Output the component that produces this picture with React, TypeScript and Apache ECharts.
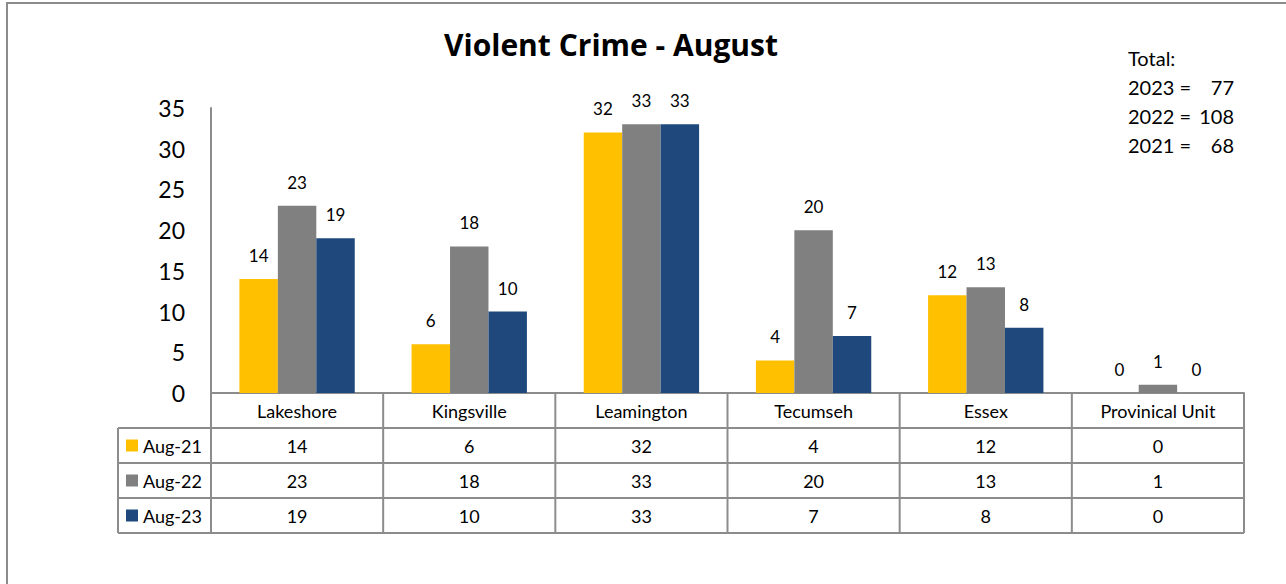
import React, { useEffect, useRef } from "react";
import * as echarts from "echarts";

const categories = ["Lakeshore", "Kingsville", "Leamington", "Tecumseh", "Essex", "Provinical Unit"];
const seriesNames = ["Aug-21", "Aug-22", "Aug-23"];
const aug21 = [14, 6, 32, 4, 12, 0];
const aug22 = [23, 18, 33, 20, 13, 1];
const aug23 = [19, 10, 33, 7, 8, 0];
const seriesColors = ["#FFC000", "#808080", "#1F497D"];
const totalYears = ["2023", "2022", "2021"];
const yMax = 35;
const yInterval = 5;

const FONT = "Lato, 'Noto Sans', sans-serif";
const TITLE_FONT = "'Open Sans', Lato, sans-serif";
const W = 1286;
const H = 584;
const GRID_LEFT = 211;
const GRID_RIGHT_X = 1244;
const GRID_TOP = 108;
const AXIS_Y = 393;
const ROW_H = 35;
const LEG_LEFT = 118;
const LINE_COLOR = "#8c8c8c";

export default function App() {
  const ref = useRef<HTMLDivElement>(null);
  useEffect(() => {
    if (!ref.current) return;
    const chart = echarts.init(ref.current, undefined, { renderer: "svg" });
    const allSeries = [aug21, aug22, aug23];
    const totalsBy: Record<string, number> = {
      "2021": aug21.reduce((a, b) => a + b, 0),
      "2022": aug22.reduce((a, b) => a + b, 0),
      "2023": aug23.reduce((a, b) => a + b, 0),
    };
    const catW = (GRID_RIGHT_X - GRID_LEFT) / categories.length;
    const tableBottom = AXIS_Y + ROW_H * 4;
    const lineStyle = { stroke: LINE_COLOR, lineWidth: 2 };
    const graphic: any[] = [];
    graphic.push({
      type: "rect",
      shape: { x: 7, y: 3, width: 1400, height: 800 },
      style: { fill: "none", stroke: LINE_COLOR, lineWidth: 2 },
      silent: true,
    });
    for (let r = 1; r <= 4; r++) {
      const y = AXIS_Y + ROW_H * r;
      graphic.push({
        type: "line",
        shape: { x1: LEG_LEFT, y1: y, x2: GRID_RIGHT_X, y2: y },
        style: lineStyle,
        silent: true,
      });
    }
    graphic.push({
      type: "line",
      shape: { x1: LEG_LEFT, y1: AXIS_Y + ROW_H, x2: LEG_LEFT, y2: tableBottom },
      style: lineStyle,
      silent: true,
    });
    for (let i = 0; i <= categories.length; i++) {
      const x = GRID_LEFT + catW * i;
      graphic.push({
        type: "line",
        shape: { x1: x, y1: AXIS_Y, x2: x, y2: tableBottom },
        style: lineStyle,
        silent: true,
      });
    }
    seriesNames.forEach((name, r) => {
      const cy = AXIS_Y + ROW_H * (r + 1) + ROW_H / 2;
      graphic.push({
        type: "rect",
        shape: { x: 126, y: cy - 6, width: 12, height: 12 },
        style: { fill: seriesColors[r] },
        silent: true,
      });
      graphic.push({
        type: "text",
        x: 143,
        y: cy,
        style: { text: name, fontSize: 18, fontFamily: FONT, fill: "#000", verticalAlign: "middle", align: "left" },
        silent: true,
      });
      allSeries[r].forEach((v, i) => {
        graphic.push({
          type: "text",
          x: GRID_LEFT + catW * (i + 0.5),
          y: cy,
          style: { text: String(v), fontSize: 18, fontFamily: FONT, fill: "#000", verticalAlign: "middle", align: "center" },
          silent: true,
        });
      });
    });
    graphic.push({
      type: "text",
      x: 1128,
      y: 58,
      style: { text: "Total:", fontSize: 20, fontFamily: FONT, fill: "#000", verticalAlign: "middle", align: "left" },
      silent: true,
    });
    totalYears.forEach((yr, k) => {
      const y = 58 + 29 * (k + 1);
      graphic.push({
        type: "text",
        x: 1128,
        y,
        style: { text: yr + " =", fontSize: 20, fontFamily: FONT, fill: "#000", verticalAlign: "middle", align: "left" },
        silent: true,
      });
      graphic.push({
        type: "text",
        x: 1234,
        y,
        style: { text: String(totalsBy[yr]), fontSize: 20, fontFamily: FONT, fill: "#000", verticalAlign: "middle", align: "right" },
        silent: true,
      });
    });

    chart.setOption({
      animation: false,
      backgroundColor: "#ffffff",
      textStyle: { fontFamily: FONT },
      title: {
        text: "Violent Crime - August",
        left: 606,
        top: 24,
        textAlign: "center",
        textStyle: { fontSize: 30, fontWeight: "bold", color: "#000", fontFamily: TITLE_FONT },
      },
      grid: {
        left: GRID_LEFT,
        right: W - GRID_RIGHT_X,
        top: GRID_TOP,
        bottom: H - AXIS_Y,
        containLabel: false,
      },
      xAxis: {
        type: "category",
        data: categories,
        axisLine: { show: true, lineStyle: { color: LINE_COLOR, width: 2 } },
        axisTick: { show: false },
        axisLabel: { fontSize: 18, color: "#000", margin: 9, fontFamily: FONT, interval: 0 },
        splitLine: { show: false },
      },
      yAxis: {
        type: "value",
        min: 0,
        max: yMax,
        interval: yInterval,
        axisLine: { show: true, lineStyle: { color: LINE_COLOR, width: 2 } },
        axisTick: { show: false },
        splitLine: { show: false },
        axisLabel: { fontSize: 23, color: "#000", margin: 26, fontFamily: FONT },
      },
      series: seriesNames.map((name, r) => ({
        name,
        type: "bar",
        data: allSeries[r],
        barGap: "0%",
        barCategoryGap: "33%",
        itemStyle: { color: seriesColors[r] },
        label: {
          show: true,
          position: "top",
          distance: 15,
          fontSize: 17,
          color: "#000",
          fontFamily: FONT,
        },
      })),
      graphic,
    });
    return () => chart.dispose();
  }, []);
  return <div ref={ref} style={{ position: "absolute", left: 0, top: 0, width: W, height: H }} />;
}
